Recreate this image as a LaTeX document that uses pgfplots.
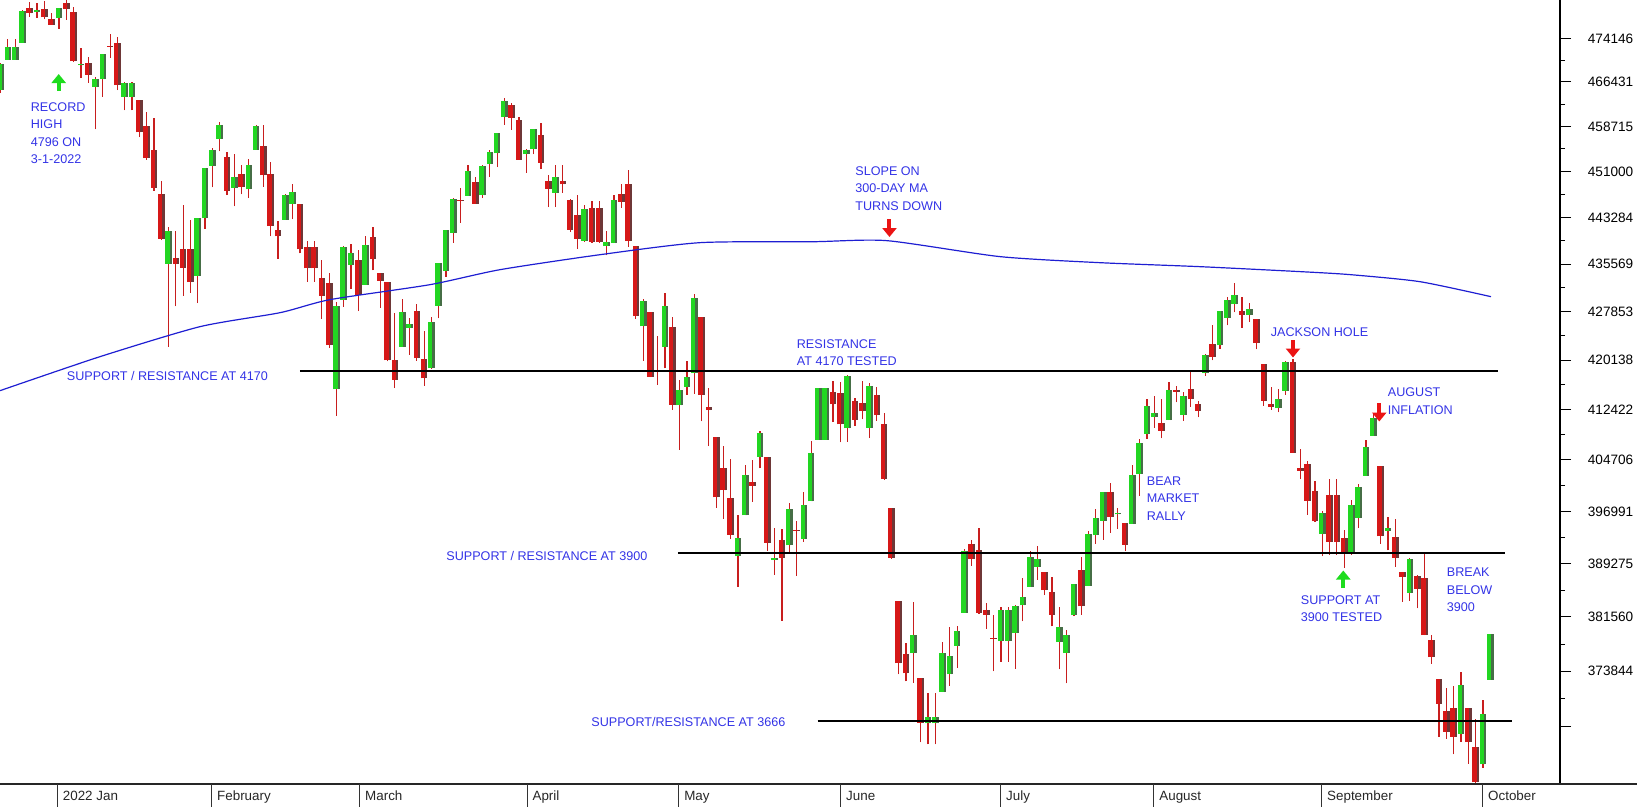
\documentclass[border=0pt]{standalone}
\usepackage{fontspec}
\setmainfont{Liberation Sans}
\usepackage{pgfplots}
\pgfplotsset{compat=1.18}
\usepackage{pgfplotstable}
\usetikzlibrary{arrows.meta}

\definecolor{upg}{RGB}{34,214,34}
\definecolor{upgd}{RGB}{70,110,70}
\definecolor{dnr}{RGB}{214,24,24}
\definecolor{dnrd}{RGB}{110,55,55}
\definecolor{wick}{RGB}{200,30,30}
\definecolor{ann}{RGB}{51,51,230}
\definecolor{ma}{RGB}{30,30,210}

% picture pixel -> tikz point (1 px = 0.5bp, y down from top of plot)
\newcommand{\PX}[2]{({(#1)*0.5bp},{(784-(#2))*0.5bp})}

% w = weekday number (0 = 3 Jan 2022); holidays repeat the previous candle
\pgfplotstableread{
w o h l c
-8 4650.36 4697.67 4645.08 4696.56
-7 4703.96 4740.74 4703.96 4725.79
-6 4703.96 4740.74 4703.96 4725.79
-5 4733.99 4791.49 4733.99 4791.19
-3 4788.64 4804.06 4778.08 4793.06
0 4778.14 4796.64 4758.17 4796.56
3 4693.39 4725.01 4671.26 4696.05
5 4655.34 4673.02 4582.24 4670.29
6 4669.14 4714.13 4638.27 4713.07
9 4637.99 4665.13 4614.75 4662.85
10 4637.99 4665.13 4614.75 4662.85
15 4356.32 4417.35 4222.62 4410.13
19 4336.19 4432.72 4292.46 4431.85
20 4431.79 4516.89 4414.02 4515.55
21 4519.57 4550.49 4483.53 4546.54
22 4566.39 4595.31 4544.32 4589.38
24 4482.79 4539.66 4451.50 4500.53
26 4480.02 4531.32 4465.40 4521.54
27 4547.00 4590.03 4547.00 4587.18
31 4429.28 4472.77 4429.28 4471.07
32 4455.75 4489.55 4429.68 4475.01
38 4155.77 4294.73 4114.65 4288.70
39 4298.38 4385.34 4286.83 4384.65
40 4354.17 4388.84 4315.12 4373.94
42 4322.56 4401.48 4322.56 4386.54
47 4223.10 4299.40 4223.10 4277.88
48 4252.55 4268.28 4209.80 4259.52
51 4188.82 4271.05 4187.90 4262.45
52 4288.14 4357.86 4267.92 4357.86
53 4345.11 4412.67 4335.65 4411.67
54 4407.34 4465.40 4390.57 4463.12
56 4469.10 4522.00 4469.10 4511.61
58 4469.98 4520.58 4465.17 4520.16
59 4522.66 4546.03 4501.07 4543.06
60 4541.09 4575.65 4517.69 4575.52
61 4602.86 4637.30 4589.66 4631.60
64 4540.32 4548.70 4507.57 4545.86
65 4547.97 4583.50 4539.21 4582.64
68 4474.65 4521.16 4450.30 4500.21
72 4394.30 4453.92 4392.70 4446.59
75 4385.63 4410.31 4370.30 4391.69
76 4390.63 4471.03 4390.63 4462.21
80 4255.34 4299.02 4200.82 4296.12
83 4222.58 4308.45 4188.63 4287.50
85 4130.61 4169.81 4062.51 4155.38
86 4159.78 4200.10 4147.08 4175.48
87 4181.18 4307.66 4148.91 4300.17
93 3903.95 3964.80 3858.87 3930.08
94 3963.90 4038.88 3963.90 4023.89
96 4052.00 4090.72 4033.93 4088.85
98 3899.00 3945.96 3876.58 3900.79
100 3919.42 3981.88 3909.04 3973.75
102 3929.59 3999.33 3925.03 3978.73
103 3984.60 4075.14 3984.60 4057.84
104 4077.43 4158.49 4077.43 4158.24
105 4077.43 4158.49 4077.43 4158.24
108 4095.41 4177.51 4074.37 4176.82
111 4096.47 4164.86 4080.19 4160.68
117 3764.05 3837.56 3722.30 3789.99
119 3665.90 3707.71 3636.87 3674.84
120 3665.90 3707.71 3636.87 3674.84
121 3709.33 3779.65 3709.33 3764.79
122 3733.89 3801.79 3717.69 3759.89
123 3774.71 3802.58 3743.52 3795.73
124 3821.75 3913.65 3821.75 3911.74
129 3781.00 3829.82 3752.10 3825.33
130 3781.00 3829.82 3752.10 3825.33
131 3792.61 3832.19 3742.06 3831.39
132 3831.98 3870.91 3809.37 3845.08
133 3858.85 3910.63 3858.85 3902.62
134 3888.26 3918.50 3869.34 3899.38
137 3779.67 3829.44 3741.25 3801.78
138 3763.99 3796.41 3721.56 3790.38
139 3818.00 3863.62 3817.18 3863.16
141 3860.73 3939.81 3860.73 3936.69
142 3935.32 3974.13 3922.03 3959.90
143 3955.47 3999.29 3927.64 3998.95
145 3965.72 3975.30 3943.46 3966.84
147 3951.43 4039.56 3951.43 4023.61
148 4026.13 4078.95 3992.97 4072.43
149 4087.33 4140.15 4079.22 4130.29
150 4112.38 4144.95 4096.02 4118.63
152 4107.96 4167.66 4107.96 4155.17
154 4115.87 4151.58 4107.31 4145.19
157 4181.02 4211.03 4177.26 4210.24
159 4225.02 4280.47 4219.78 4280.15
160 4269.37 4301.79 4256.90 4297.14
161 4290.46 4325.28 4277.77 4305.20
163 4273.13 4292.53 4261.98 4283.74
167 4126.55 4156.56 4119.97 4140.77
168 4153.26 4200.54 4147.59 4199.12
173 3936.73 3970.23 3903.65 3966.85
177 3909.43 3987.89 3906.03 3979.87
178 3959.94 4010.50 3944.81 4006.18
179 4022.94 4076.81 4022.94 4067.36
180 4083.67 4119.28 4083.67 4110.41
182 3940.73 3961.94 3912.30 3946.01
185 3849.91 3900.45 3838.50 3899.89
192 3651.94 3736.74 3640.61 3719.04
195 3609.78 3698.35 3604.93 3678.43
196 3726.46 3791.92 3726.46 3790.93
}\up

\pgfplotstableread{
w o h l c
-4 4795.49 4807.02 4780.04 4786.35
-2 4794.23 4808.93 4775.33 4778.73
-1 4775.21 4786.83 4765.75 4766.18
1 4804.51 4818.62 4774.27 4793.54
2 4787.99 4797.70 4699.44 4700.58
4 4697.66 4707.95 4662.74 4677.03
7 4728.59 4748.83 4706.71 4726.35
8 4733.56 4744.13 4650.29 4659.03
11 4632.24 4632.24 4568.70 4577.11
12 4588.03 4611.55 4530.20 4532.76
13 4547.35 4602.11 4477.95 4482.73
14 4471.38 4494.52 4395.34 4397.94
16 4366.64 4411.01 4287.11 4356.45
17 4380.58 4453.23 4304.80 4349.93
18 4380.58 4428.74 4309.50 4326.51
23 4535.41 4542.88 4470.39 4477.44
25 4505.75 4521.86 4471.47 4483.87
28 4553.24 4588.92 4484.31 4504.08
29 4506.27 4526.33 4401.41 4418.64
30 4412.61 4426.22 4364.84 4401.67
33 4456.06 4456.06 4373.81 4380.26
34 4384.57 4394.60 4327.22 4348.87
35 4384.57 4394.60 4327.22 4348.87
36 4332.74 4362.12 4267.11 4304.76
37 4324.93 4341.51 4221.51 4225.50
41 4363.14 4378.45 4279.54 4306.26
43 4401.31 4416.78 4345.56 4363.49
44 4342.12 4342.12 4284.98 4328.87
45 4327.01 4327.01 4199.85 4201.09
46 4202.66 4276.94 4157.87 4170.70
49 4279.50 4291.01 4200.49 4204.31
50 4202.75 4247.57 4161.72 4173.11
55 4462.40 4481.75 4424.30 4461.18
57 4493.10 4501.07 4455.81 4456.24
62 4624.20 4627.77 4581.32 4602.45
63 4599.02 4603.07 4530.41 4530.41
66 4572.45 4593.45 4514.17 4525.12
67 4494.17 4503.94 4450.04 4481.15
69 4494.15 4520.41 4474.60 4488.28
70 4462.64 4464.35 4408.38 4412.53
71 4437.59 4471.00 4381.34 4397.45
73 4449.12 4460.46 4390.77 4392.59
74 4449.12 4460.46 4390.77 4392.59
77 4472.26 4488.29 4448.76 4459.45
78 4489.17 4512.94 4384.47 4393.66
79 4385.83 4385.83 4267.62 4271.78
81 4278.14 4278.14 4175.04 4175.20
82 4186.52 4240.71 4162.90 4183.96
84 4253.75 4269.68 4124.28 4131.93
88 4270.43 4270.43 4106.01 4146.87
89 4128.17 4157.69 4067.91 4123.34
90 4081.27 4081.27 3975.48 3991.24
91 4035.18 4068.82 3958.17 4001.05
92 3990.08 4049.09 3928.82 3935.18
95 4013.02 4046.46 3983.99 4008.01
97 4051.98 4051.98 3911.91 3923.68
99 3927.76 3943.42 3810.32 3901.36
101 3942.94 3955.68 3875.13 3941.48
106 4151.09 4168.34 4104.88 4132.15
107 4149.78 4166.54 4073.85 4101.23
109 4137.57 4142.67 4098.67 4108.54
110 4134.72 4168.78 4109.18 4121.43
112 4147.12 4160.14 4107.20 4115.77
113 4101.65 4119.10 4017.17 4017.82
114 3974.39 3974.39 3900.16 3900.86
115 3838.15 3838.15 3734.30 3749.63
116 3763.52 3778.18 3724.01 3735.48
118 3728.18 3728.18 3639.77 3666.77
125 3920.76 3927.72 3889.66 3900.11
126 3913.00 3945.86 3820.14 3821.55
127 3825.09 3836.50 3799.02 3818.83
128 3785.99 3818.99 3738.67 3785.38
135 3880.94 3880.94 3847.22 3854.43
136 3851.95 3873.41 3802.36 3818.80
140 3883.79 3902.44 3818.63 3830.85
144 3998.43 4012.44 3938.85 3961.63
146 3953.22 3953.22 3910.74 3921.05
151 4104.21 4140.47 4079.81 4091.19
153 4154.85 4161.29 4135.42 4151.94
155 4155.93 4186.62 4128.97 4140.06
156 4133.11 4137.30 4112.09 4122.47
158 4227.40 4257.91 4201.41 4207.27
162 4280.40 4302.18 4253.08 4274.04
164 4266.31 4266.31 4218.70 4228.48
165 4195.08 4195.08 4129.86 4137.99
166 4133.09 4159.77 4124.03 4128.73
169 4198.74 4203.04 4057.66 4057.66
170 4034.58 4062.99 4017.42 4030.61
171 4041.25 4044.98 3965.21 3986.16
172 4000.67 4015.37 3954.53 3955.00
174 3994.66 4018.43 3906.21 3924.26
175 3994.66 4018.43 3906.21 3924.26
176 3930.89 3942.55 3886.75 3908.19
181 4037.12 4037.12 3921.35 3932.69
183 3932.41 3959.14 3888.28 3901.35
184 3880.95 3880.95 3837.08 3873.33
186 3875.23 3876.01 3827.54 3855.93
187 3871.40 3907.07 3789.49 3789.93
188 3782.36 3790.20 3749.45 3757.99
189 3727.14 3727.14 3647.47 3693.23
190 3682.72 3715.67 3644.76 3655.04
191 3686.44 3717.53 3623.29 3647.29
193 3687.01 3687.01 3610.40 3640.47
194 3633.48 3671.44 3584.13 3585.62
}\down

\pgfplotsset{
  nomark/.style={only marks, mark=*, mark size=0pt, mark options={opacity=0}, forget plot},
  wickplot/.style={nomark,
    error bars/.cd, y dir=plus, y explicit, error mark=none,
    error bar style={line width=0.6bp, wick}},
  bodyplot/.style={nomark,
    error bars/.cd, y dir=plus, y explicit, error mark=none,
    error bar style={line width=3.3bp, #1}},
  shadeplot/.style={nomark,
    error bars/.cd, y dir=plus, y explicit, error mark=none,
    error bar style={line width=1.15bp, #1}},
}

\begin{document}
\begin{tikzpicture}
\useasboundingbox (0,-11.5bp) rectangle (818.5bp,392bp);
\begin{axis}[
  at={(0,0)}, anchor=south west,
  scale only axis, width=780bp, height=392bp,
  xmin=-8.08, xmax=205.56,
  ymode=log, ymin=3583.9, ymax=4810.7,
  axis x line=none, axis y line*=right,
  y axis line style={line width=0.6bp, black},
  ytick={4741.46,4664.31,4587.15,4510.00,4432.84,4355.69,4278.53,4201.38,4124.22,4047.06,3969.91,3892.75,3815.60,3738.44,3661.29},
  yticklabels={474146,466431,458715,451000,443284,435569,427853,420138,412422,404706,396991,389275,381560,373844,},
  minor ytick={4702.89,4625.73,4548.58,4471.42,4394.27,4317.11,4239.96,4162.80,4085.64,4008.49,3931.33,3854.18,3777.02,3699.87},
  tick align=outside,
  major tick length=5.5bp, minor tick length=2.5bp,
  every tick/.style={black, line width=0.5bp},
  yticklabel style={font=\fontsize{6.8bp}{8bp}\selectfont, black, inner sep=0pt, anchor=west, xshift=8.25bp},
  clip=true,
]
% wicks
\addplot[wickplot] table[x=w, y=l, y error expr=\thisrow{h}-\thisrow{l}] {\up};
\addplot[wickplot] table[x=w, y=l, y error expr=\thisrow{h}-\thisrow{l}] {\down};
% bodies, with a darker strip on the right side
\addplot[bodyplot=upg] table[x=w, y=o, y error expr=\thisrow{c}-\thisrow{o}] {\up};
\addplot[bodyplot=dnr] table[x=w, y=c, y error expr=\thisrow{o}-\thisrow{c}] {\down};
\addplot[shadeplot=upgd] table[x expr=\thisrow{w}+0.3, y=o, y error expr=\thisrow{c}-\thisrow{o}] {\up};
\addplot[shadeplot=dnrd] table[x expr=\thisrow{w}+0.3, y=c, y error expr=\thisrow{o}-\thisrow{c}] {\down};
% 300-day moving average
\addplot[ma, line width=0.6bp, smooth, tension=0.4] coordinates {
(-8.08,4153.7) (5.61,4207.1) (19.31,4254.8) (30.27,4277.2) (37.11,4298.2)
(50.81,4322.4) (60.40,4346.9) (74.10,4371.4) (87.79,4391.2) (103.26,4392.8)
(113.39,4394.5) (128.87,4368.2) (142.56,4358.3) (156.26,4351.8) (169.95,4343.6)
(176.80,4338.7) (186.39,4327.3) (196.11,4303.0)};
% support / resistance lines
\addplot[black, line width=1.1bp] coordinates {(33.0,4185.1) (197.1,4185.1)};
\addplot[black, line width=1.1bp] coordinates {(84.77,3908.2) (198.0,3908.2)};
\addplot[black, line width=1.1bp] coordinates {(103.9,3668.9) (199.0,3668.9)};
\end{axis}

% bottom axis with month separators
\draw[line width=0.8bp, black!85] \PX{0}{784} -- \PX{1637}{784};
\foreach \x/\t in {57.5/2022 Jan, 211.8/February, 359.8/March, 527.2/April,
  678.9/May, 840.8/June, 1000.8/July, 1154/August, 1321.8/September, 1482.8/October}{
  \draw[line width=0.5bp, black!80] \PX{\x}{784} -- \PX{\x}{807};
  \node[anchor=base west, inner sep=0pt, font=\fontsize{6.7bp}{8bp}\selectfont, black!85]
    at \PX{\x+5}{800.5} {\t};
}

% annotations
\tikzset{ann/.style={anchor=base west, inner sep=0pt, text=ann, font=\fontsize{6.3bp}{8bp}\selectfont}}
\node[ann] at \PX{30.5}{111.5} {RECORD};
\node[ann] at \PX{30.5}{128.5} {HIGH};
\node[ann] at \PX{30.5}{146} {4796 ON};
\node[ann] at \PX{30.5}{163.5} {3-1-2022};
\node[ann] at \PX{66.5}{380} {SUPPORT / RESISTANCE AT 4170};
\node[ann] at \PX{855}{175} {SLOPE ON};
\node[ann] at \PX{855}{192.5} {300-DAY MA};
\node[ann] at \PX{855}{210} {TURNS DOWN};
\node[ann] at \PX{796.5}{348} {RESISTANCE};
\node[ann] at \PX{796.5}{365} {AT 4170 TESTED};
\node[ann] at \PX{446}{560} {SUPPORT / RESISTANCE AT 3900};
\node[ann] at \PX{591}{726.5} {SUPPORT/RESISTANCE AT 3666};
\node[ann] at \PX{1146.5}{485} {BEAR};
\node[ann] at \PX{1146.5}{502.5} {MARKET};
\node[ann] at \PX{1146.5}{520} {RALLY};
\node[ann] at \PX{1270.5}{336.5} {JACKSON HOLE};
\node[ann] at \PX{1387.5}{396.5} {AUGUST};
\node[ann] at \PX{1387.5}{414} {INFLATION};
\node[ann] at \PX{1300.5}{604} {SUPPORT AT};
\node[ann] at \PX{1300.5}{621.5} {3900 TESTED};
\node[ann] at \PX{1446.5}{576.5} {BREAK};
\node[ann] at \PX{1446.5}{594} {BELOW};
\node[ann] at \PX{1446.5}{611.5} {3900};

% arrows
\tikzset{upar/.style={line width=2bp, -{Triangle[width=7bp,length=4.5bp]}}}
\draw[upar, color={rgb,255:red,30;green,220;blue,30}] \PX{58.7}{90.5} -- \PX{58.7}{74};
\draw[upar, color={rgb,255:red,30;green,220;blue,30}] \PX{1343.3}{588} -- \PX{1343.3}{570.5};
\draw[upar, color={rgb,255:red,235;green,20;blue,20}] \PX{889.5}{219} -- \PX{889.5}{237};
\draw[upar, color={rgb,255:red,235;green,20;blue,20}] \PX{1293}{340} -- \PX{1293}{357.5};
\draw[upar, color={rgb,255:red,235;green,20;blue,20}] \PX{1379.3}{403} -- \PX{1379.3}{421.5};
\end{tikzpicture}
\end{document}
